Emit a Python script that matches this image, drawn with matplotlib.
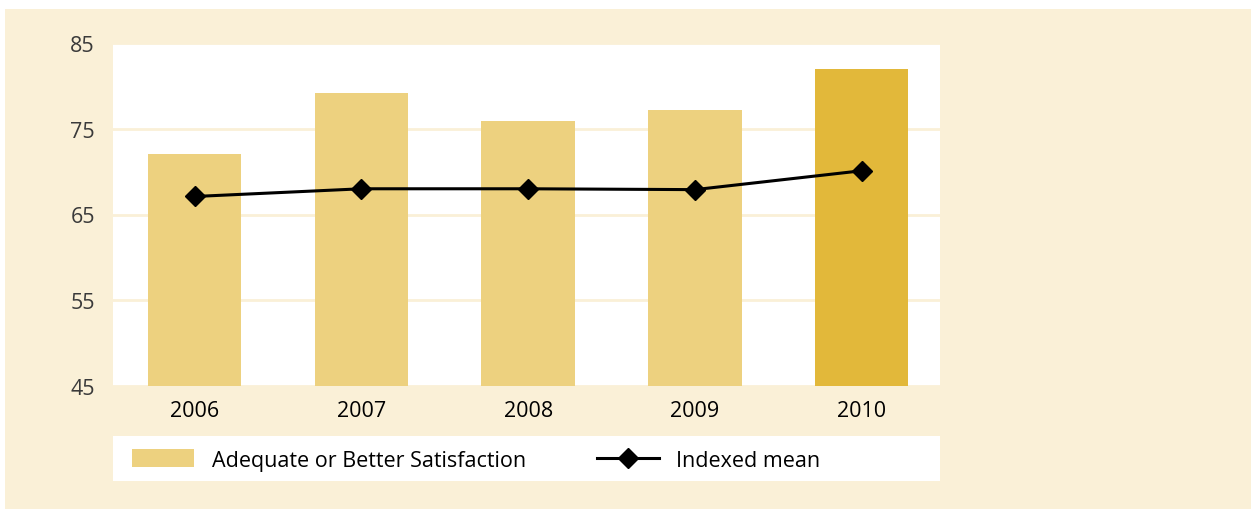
import matplotlib
matplotlib.use("Agg")
import matplotlib.pyplot as plt
from matplotlib.patches import Rectangle, Patch
from matplotlib.lines import Line2D

# data
years = ["2006", "2007", "2008", "2009", "2010"]
satisfaction = [72.0, 79.2, 75.9, 77.2, 82.0]
indexed_mean = [67.1, 68.0, 68.0, 67.9, 70.1]
y_ticks = [45, 55, 65, 75, 85]

CREAM = "#FAF0D7"
BAR = "#EDD17F"
BAR_HI = "#E2B83A"

plt.rcParams["font.family"] = ["Open Sans", "DejaVu Sans"]

W, H = 1251, 510
fig = plt.figure(figsize=(W / 100, H / 100), dpi=100)
fig.patch.set_facecolor("white")

def fx(px):
    return px / W

def fy(py):
    return 1 - py / H

# cream panel
fig.patches.append(Rectangle((fx(5), 0), 1 - fx(5), fy(10), transform=fig.transFigure,
                             facecolor=CREAM, edgecolor="none", zorder=-3))
# white legend strip
fig.patches.append(Rectangle((fx(113), fy(482)), fx(940) - fx(113), fy(437) - fy(482),
                             transform=fig.transFigure, facecolor="white",
                             edgecolor="none", zorder=-2))

ax = fig.add_axes([fx(113), fy(387), fx(940) - fx(113), fy(44) - fy(387)])
ax.set_facecolor("white")

x = range(len(years))
colors = [BAR] * (len(years) - 1) + [BAR_HI]
ax.bar(x, satisfaction, width=0.56, color=colors, zorder=2)
ax.plot(x, indexed_mean, color="black", lw=2.2, marker="D", ms=10.5, zorder=3)

ax.set_xlim(-0.49, len(years) - 0.53)
ax.set_ylim(45, 85)
ax.set_yticks(y_ticks)
ax.set_xticks(list(x))
ax.set_xticklabels(years)
ax.tick_params(axis="y", length=0, pad=13, labelsize=15.5, labelcolor="#3a3a3a")
ax.tick_params(axis="x", length=0, pad=10, labelsize=15.5, labelcolor="black")
ax.grid(axis="y", color=CREAM, lw=2, zorder=1)
ax.set_axisbelow(True)
for s in ax.spines.values():
    s.set_visible(False)

handles = [Patch(facecolor=BAR, edgecolor="none"),
           Line2D([], [], color="black", lw=2.2, marker="D", ms=10.5)]
labels = ["Adequate or Better Satisfaction", "Indexed mean"]
fig.legend(handles, labels, loc="center left", bbox_to_anchor=(fx(132), fy(461)),
           ncol=2, frameon=False, fontsize=15.5, borderpad=0, borderaxespad=0,
           handlelength=2.9, handleheight=0.85, handletextpad=0.8, columnspacing=3.3)

fig.savefig("out.png", dpi=100, facecolor=fig.get_facecolor())
